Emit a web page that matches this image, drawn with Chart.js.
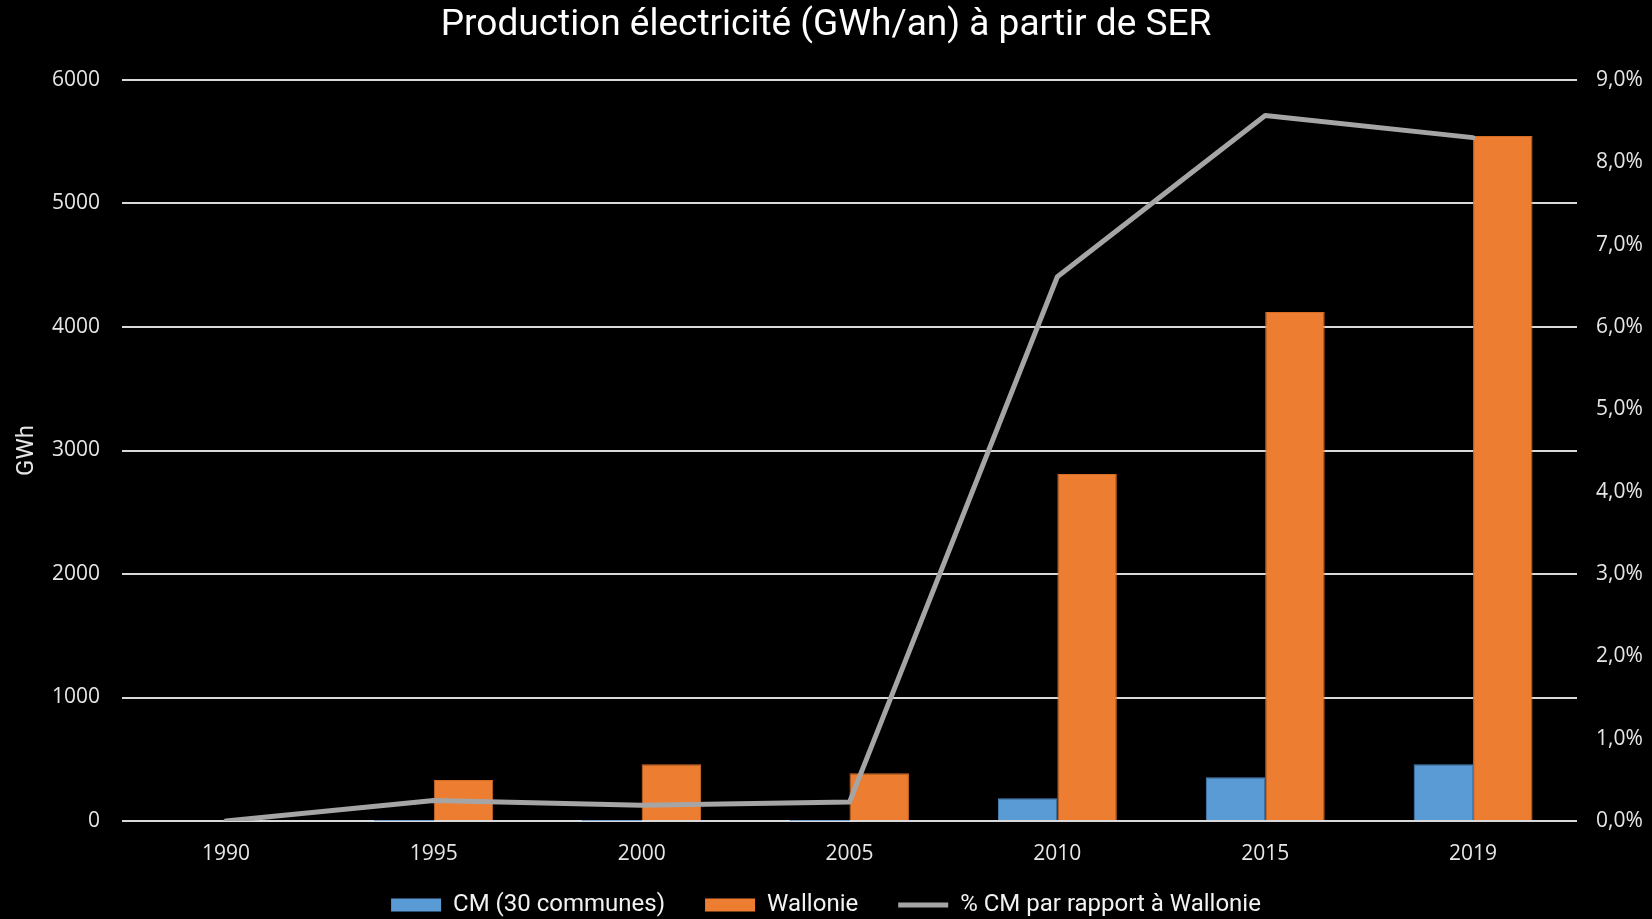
<!DOCTYPE html>
<html>
<head>
<meta charset="utf-8">
<script src="https://cdn.jsdelivr.net/npm/chart.js@4/dist/chart.umd.min.js"></script>
<style>
  html, body { margin: 0; padding: 0; background: #000; }
  #wrap { width: 1652px; height: 919px; }
</style>
</head>
<body>
<div id="wrap"><canvas id="myChart"></canvas></div>
<script>
const years = ['1990', '1995', '2000', '2005', '2010', '2015', '2019'];
const cmValues = [0, 0.8, 0.9, 0.9, 184, 354, 459];
const wallonieValues = [0, 332, 459, 386, 2810, 4122, 5547];
const pctValues = [0, 0.25, 0.19, 0.23, 6.61, 8.57, 8.30];

const tickFont = { family: 'Open Sans', size: 21 };
const txtColor = '#e6e6e6';

// legend sits a bit higher than its layout box so the x labels keep their room
const legendShift = {
  id: 'legendShift',
  afterLayout(chart) {
    chart.legend.top = 853;
    chart.legend.bottom = 919;
  }
};

const ctx = document.getElementById('myChart').getContext('2d');
new Chart(ctx, {
  type: 'bar',
  data: {
    labels: years,
    datasets: [{
      label: 'CM (30 communes)',
      data: cmValues,
      backgroundColor: '#5b9bd5',
      borderColor: '#4a86bd',
      borderWidth: 1,
      categoryPercentage: 0.572,
      barPercentage: 1.0,
      yAxisID: 'y',
      order: 1
    }, {
      label: 'Wallonie',
      data: wallonieValues,
      backgroundColor: '#ed7d31',
      borderColor: '#d56d27',
      borderWidth: 1,
      categoryPercentage: 0.572,
      barPercentage: 1.0,
      yAxisID: 'y',
      order: 1
    }, {
      type: 'line',
      label: '% CM par rapport à Wallonie',
      data: pctValues,
      borderColor: '#a5a5a5',
      backgroundColor: '#a5a5a5',
      borderWidth: 5,
      borderCapStyle: 'round',
      borderJoinStyle: 'round',
      pointRadius: 0,
      tension: 0,
      yAxisID: 'y1',
      order: 0
    }]
  },
  options: {
    responsive: true,
    maintainAspectRatio: false,
    animation: false,
    layout: { padding: { left: 0, right: 0, top: 0, bottom: -20 } },
    plugins: {
      title: {
        display: true,
        text: 'Production électricité (GWh/an) à partir de SER',
        color: '#ffffff',
        font: { family: 'Roboto', size: 37, weight: 'normal' },
        padding: { top: 4, bottom: 31.6 }
      },
      legend: {
        position: 'bottom',
        labels: {
          color: '#f2f2f2',
          font: { family: 'Roboto', size: 24 },
          usePointStyle: true,
          pointStyleWidth: 50,
          boxHeight: 13,
          padding: 40,
          sort: (a, b) => a.datasetIndex - b.datasetIndex,
          generateLabels: function(chart) {
            const items = Chart.defaults.plugins.legend.labels.generateLabels(chart);
            items.forEach(it => {
              it.pointStyle = it.datasetIndex === 2 ? 'line' : 'rect';
              if (it.datasetIndex !== 2) it.lineWidth = 0;
            });
            return items;
          }
        }
      },
      tooltip: { enabled: false }
    },
    scales: {
      x: {
        offset: true,
        grid: { display: false },
        border: { display: false },
        ticks: { color: txtColor, font: tickFont, padding: 12, maxRotation: 0 },
        afterFit: s => { s.height = 44; }
      },
      y: {
        position: 'left',
        min: 0,
        max: 6000,
        ticks: { stepSize: 1000, color: txtColor, font: tickFont, padding: 22, callback: v => String(v) },
        grid: { color: '#d9d9d9', lineWidth: 2, drawTicks: false },
        border: { display: false },
        title: {
          display: true,
          text: 'GWh',
          color: txtColor,
          font: { family: 'Roboto', size: 24 },
          padding: { top: 13, bottom: 0 }
        },
        afterFit: s => { s.width = 122; }
      },
      y1: {
        position: 'right',
        min: 0,
        max: 9,
        ticks: {
          stepSize: 1,
          color: txtColor,
          font: tickFont,
          padding: 19,
          callback: v => v.toFixed(1).replace('.', ',') + '%'
        },
        grid: { display: false, drawTicks: false },
        border: { display: false },
        afterFit: s => { s.width = 75; }
      }
    }
  },
  plugins: [legendShift]
});
</script>
</body>
</html>
